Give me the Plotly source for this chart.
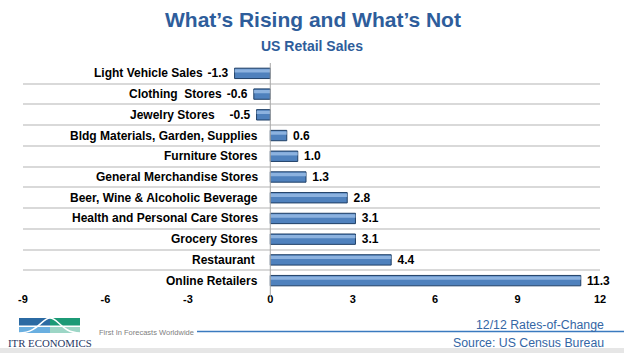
import plotly.graph_objects as go

categories = [
    "Light Vehicle Sales",
    "Clothing\u00a0\u00a0Stores",
    "Jewelry Stores\u00a0\u00a0\u00a0",
    "Bldg Materials, Garden, Supplies",
    "Furniture Stores",
    "General Merchandise Stores",
    "Beer, Wine & Alcoholic Beverage",
    "Health and Personal Care Stores",
    "Grocery Stores",
    "Restaurant\u00a0",
    "Online Retailers",
]
values = [-1.3, -0.6, -0.5, 0.6, 1.0, 1.3, 2.8, 3.1, 3.1, 4.4, 11.3]
x_ticks = [-9, -6, -3, 0, 3, 6, 9, 12]

W, H = 624, 353
ML, MR, MT, MB = 23, 24, 63, 62
PW, PH = W - ML - MR, H - MT - MB


def px(x):
    return (x - ML) / PW


def py(y):
    return (H - MB - y) / PH


FONT = "Arial, Liberation Sans, sans-serif"
TITLE_C = "#2e5d9b"
idx = list(range(len(categories)))
labels = [f"\u00a0{v:.1f}" if v >= 0 else f"{v:.1f}\u00a0" for v in values]

fig = go.Figure()
fig.add_trace(go.Bar(
    x=values, y=idx, orientation="h", width=0.5,
    marker=dict(color="#4f81bd", line=dict(color="#1f3f66", width=1)),
    text=labels, textposition="outside",
    constraintext="none",
    textfont=dict(family=FONT, size=12, color="black", weight="bold"),
    cliponaxis=False, hoverinfo="skip",
))
# highlight band to mimic gradient
fig.add_trace(go.Bar(
    x=values, y=idx, orientation="h", width=0.16, offset=-0.2,
    marker=dict(color="rgba(160,195,235,0.75)", line=dict(width=0)),
    hoverinfo="skip",
))

annotations = []
for i, (c, v) in enumerate(zip(categories, values)):
    annotations.append(dict(
        x=min(0, v), y=i, xref="x", yref="y", text=c, showarrow=False,
        xanchor="right", yanchor="middle", xshift=-10 if v >= 0 else -30,
        font=dict(family=FONT, size=12, color="black", weight="bold"),
    ))

# titles
annotations.append(dict(x=px(313), y=py(20), xref="paper", yref="paper",
                        text="What\u2019s Rising and What\u2019s Not", showarrow=False,
                        xanchor="center", yanchor="middle",
                        font=dict(family=FONT, size=21, color=TITLE_C, weight="bold")))
annotations.append(dict(x=px(312), y=py(46), xref="paper", yref="paper",
                        text="US Retail Sales", showarrow=False,
                        xanchor="center", yanchor="middle",
                        font=dict(family=FONT, size=14, color=TITLE_C, weight="bold")))
# footer texts
annotations.append(dict(x=px(97), y=py(332), xref="paper", yref="paper",
                        text="First In Forecasts Worldwide", showarrow=False,
                        xanchor="left", yanchor="middle",
                        font=dict(family=FONT, size=7.5, color="#808080")))
annotations.append(dict(x=px(6), y=py(343), xref="paper", yref="paper",
                        text="ITR ECONOMICS", showarrow=False,
                        xanchor="left", yanchor="middle",
                        font=dict(family="Liberation Serif, Times New Roman, serif",
                                  size=10.8, color="#1f3864")))
annotations.append(dict(x=px(606), y=py(325), xref="paper", yref="paper",
                        text="12/12 Rates-of-Change", showarrow=False,
                        xanchor="right", yanchor="middle",
                        font=dict(family=FONT, size=12.3, color="#3466a5")))
annotations.append(dict(x=px(606), y=py(343), xref="paper", yref="paper",
                        text="Source: US Census Bureau", showarrow=False,
                        xanchor="right", yanchor="middle",
                        font=dict(family=FONT, size=12.3, color="#3466a5")))

shapes = [
    # zero axis line
    dict(type="line", xref="x", yref="paper", x0=0, x1=0, y0=py(296), y1=1,
         line=dict(color="#a6a6a6", width=1), layer="above"),
    # footer rule
    dict(type="line", xref="paper", yref="paper", x0=px(197), x1=px(624),
         y0=py(331.5), y1=py(331.5), line=dict(color="#3a7abf", width=1.5)),
    # bottom gray band
    dict(type="rect", xref="paper", yref="paper", x0=px(0), x1=px(624),
         y0=py(348), y1=py(353), fillcolor="#e6e6e6", line=dict(width=0)),
    # logo
    dict(type="rect", xref="paper", yref="paper", x0=px(19), x1=px(50),
         y0=py(318), y1=py(325.5), fillcolor="#2b6aa3", line=dict(width=0)),
    dict(type="rect", xref="paper", yref="paper", x0=px(50), x1=px(80),
         y0=py(318), y1=py(325.5), fillcolor="#1c9a76", line=dict(width=0)),
    dict(type="rect", xref="paper", yref="paper", x0=px(19), x1=px(50),
         y0=py(327), y1=py(333), fillcolor="#6aafe0", line=dict(width=0)),
    dict(type="rect", xref="paper", yref="paper", x0=px(50), x1=px(80),
         y0=py(327), y1=py(333), fillcolor="#9dd6c6", line=dict(width=0)),
]


def pp(x, y):
    return f"{px(x)},{py(y)}"


curve = (f"M {pp(19,333)} C {pp(38,333)} {pp(42,318)} {pp(50,318)} "
         f"C {pp(58,318)} {pp(62,333)} {pp(80,333)}")
shapes.append(dict(type="path", xref="paper", yref="paper", path=curve,
                   line=dict(color="white", width=1.5)))

fig.update_layout(
    width=W, height=H, margin=dict(l=ML, r=MR, t=MT, b=MB),
    paper_bgcolor="white", plot_bgcolor="white",
    barmode="overlay", showlegend=False,
    annotations=annotations, shapes=shapes,
    xaxis=dict(range=[-9, 12], tickvals=x_ticks, ticktext=[str(t) for t in x_ticks],
               showgrid=False, zeroline=False, showline=False, ticks="",
               tickfont=dict(family=FONT, size=11, color="black", weight="bold"),
               fixedrange=True),
    yaxis=dict(range=[len(categories) - 0.5, -0.5],
               tickvals=[i - 0.5 for i in range(len(categories) + 1)],
               showticklabels=False, showgrid=True, gridcolor="#d9d9d9", gridwidth=1.5,
               zeroline=False, showline=False, ticks="", fixedrange=True),
)

fig.write_html("out.html")
